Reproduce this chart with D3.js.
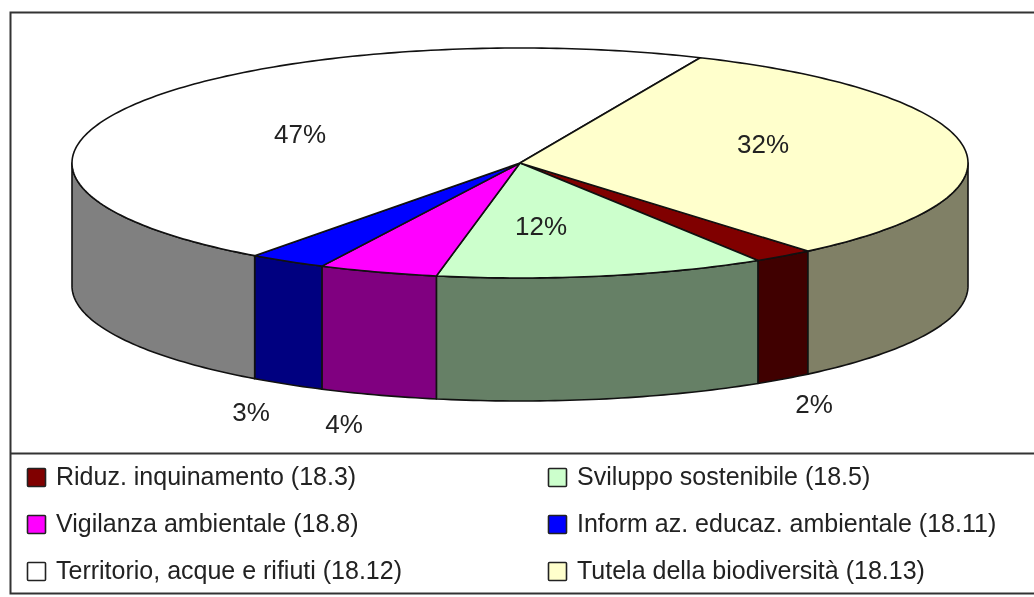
<!DOCTYPE html>
<html>
<head>
<meta charset="utf-8">
<script src="https://cdn.jsdelivr.net/npm/d3@7"></script>
<style>
  html, body { margin: 0; padding: 0; background: #fff; }
  svg { display: block; filter: blur(0.35px); }
  text { font-family: "Liberation Sans", Arial, sans-serif; fill: #222; }
</style>
</head>
<body>
<svg width="1034" height="597"></svg>
<script>
// legend order, same order the slices run clockwise
var categories = [
  "Riduz. inquinamento (18.3)",
  "Sviluppo sostenibile (18.5)",
  "Vigilanza ambientale (18.8)",
  "Inform az. educaz. ambientale (18.11)",
  "Territorio, acque e rifiuti (18.12)",
  "Tutela della biodiversità (18.13)"
];
var values = [2.2, 11.9, 4.3, 2.8, 46.5, 32.3];
var labels = ["2%", "12%", "4%", "3%", "47%", "32%"];
var topColors = ["#800000", "#ccffcc", "#ff00ff", "#0000ff", "#ffffff", "#ffffcc"];
var sideColors = ["#400000", "#668066", "#800080", "#000080", "#808080", "#808066"];

var svg = d3.select("svg"),
    width = +svg.attr("width"),
    height = +svg.attr("height");

var cx = 520, cy = 163,
    rx = 448, ry = 115,
    depth = 123,
    firstAngle = 140 * Math.PI / 180;

var line = "#111";

// frame, runs off the right edge
svg.append("rect")
   .attr("x", 10.5).attr("y", 12.5)
   .attr("width", width + 20).attr("height", 581)
   .attr("fill", "#fff").attr("stroke", "#333").attr("stroke-width", 2);
svg.append("line")
   .attr("x1", 10).attr("x2", width).attr("y1", 453.5).attr("y2", 453.5)
   .attr("stroke", "#333").attr("stroke-width", 2);

var pie = d3.pie().sort(null).startAngle(firstAngle).endAngle(firstAngle + 2 * Math.PI);
var slices = pie(values);

// unit circle to the squashed pie
var xScale = d3.scaleLinear().domain([-1, 1]).range([cx - rx, cx + rx]),
    yScale = d3.scaleLinear().domain([-1, 1]).range([cy - ry, cy + ry]);

function px(a) { return xScale(Math.sin(a)); }
function py(a) { return yScale(-Math.cos(a)); }

var lineGen = d3.line();

function rimPoints(a0, a1) {
  var n = Math.max(2, Math.ceil((a1 - a0) * 60));
  return d3.range(n + 1).map(function(i) { return a0 + (a1 - a0) * i / n; });
}

// visible wall of a slice is the part of it in the front half
function wallPieces(d) {
  var out = [];
  [0, 2 * Math.PI].forEach(function(turn) {
    var a0 = Math.max(d.startAngle, Math.PI / 2 + turn),
        a1 = Math.min(d.endAngle, 3 * Math.PI / 2 + turn);
    if (a1 > a0) out.push([a0, a1]);
  });
  return out;
}

var walls = [];
slices.forEach(function(d, i) {
  wallPieces(d).forEach(function(p) { walls.push({ i: i, a0: p[0], a1: p[1] }); });
});

svg.append("g").selectAll("path")
   .data(walls)
   .enter().append("path")
   .attr("fill", function(d) { return sideColors[d.i]; })
   .attr("stroke", line)
   .attr("stroke-width", 1.6)
   .attr("stroke-linejoin", "round")
   .attr("d", function(d) {
     var a = rimPoints(d.a0, d.a1);
     var upper = a.map(function(t) { return [px(t), py(t)]; });
     var lower = a.slice().reverse().map(function(t) { return [px(t), py(t) + depth]; });
     return lineGen(upper.concat(lower)) + "Z";
   });

// top face
svg.append("g").selectAll("path")
   .data(slices)
   .enter().append("path")
   .attr("fill", function(d, i) { return topColors[i]; })
   .attr("stroke", line)
   .attr("stroke-width", 1.6)
   .attr("stroke-linejoin", "round")
   .attr("d", function(d) {
     var pts = rimPoints(d.startAngle, d.endAngle).map(function(t) { return [px(t), py(t)]; });
     return lineGen([[cx, cy]].concat(pts)) + "Z";
   });

// percent labels, placed by hand like the original
var labelX = [814, 541, 344, 251, 300, 763],
    labelY = [413, 235, 433, 421, 143, 153];

svg.append("g").selectAll("text")
   .data(labels)
   .enter().append("text")
   .attr("x", function(d, i) { return labelX[i]; })
   .attr("y", function(d, i) { return labelY[i]; })
   .attr("text-anchor", "middle")
   .attr("font-size", "26px")
   .text(function(d) { return d; });

// legend, two columns
var legendX = d3.scalePoint().domain([0, 1]).range([27, 548]),
    legendY = d3.scalePoint().domain([0, 1, 2]).range([468, 562]);

var items = svg.append("g").selectAll("g")
   .data(categories)
   .enter().append("g")
   .attr("transform", function(d, i) {
     return "translate(" + legendX(i % 2) + "," + legendY(Math.floor(i / 2)) + ")";
   });

items.append("rect")
   .attr("x", 0.5).attr("y", 0.5)
   .attr("width", 18).attr("height", 18)
   .attr("rx", 1)
   .attr("fill", function(d, i) { return topColors[i]; })
   .attr("stroke", "#222")
   .attr("stroke-width", 1.6);

items.append("text")
   .attr("x", 29)
   .attr("y", 17)
   .attr("font-size", "25px")
   .text(function(d) { return d; });
</script>
</body>
</html>
